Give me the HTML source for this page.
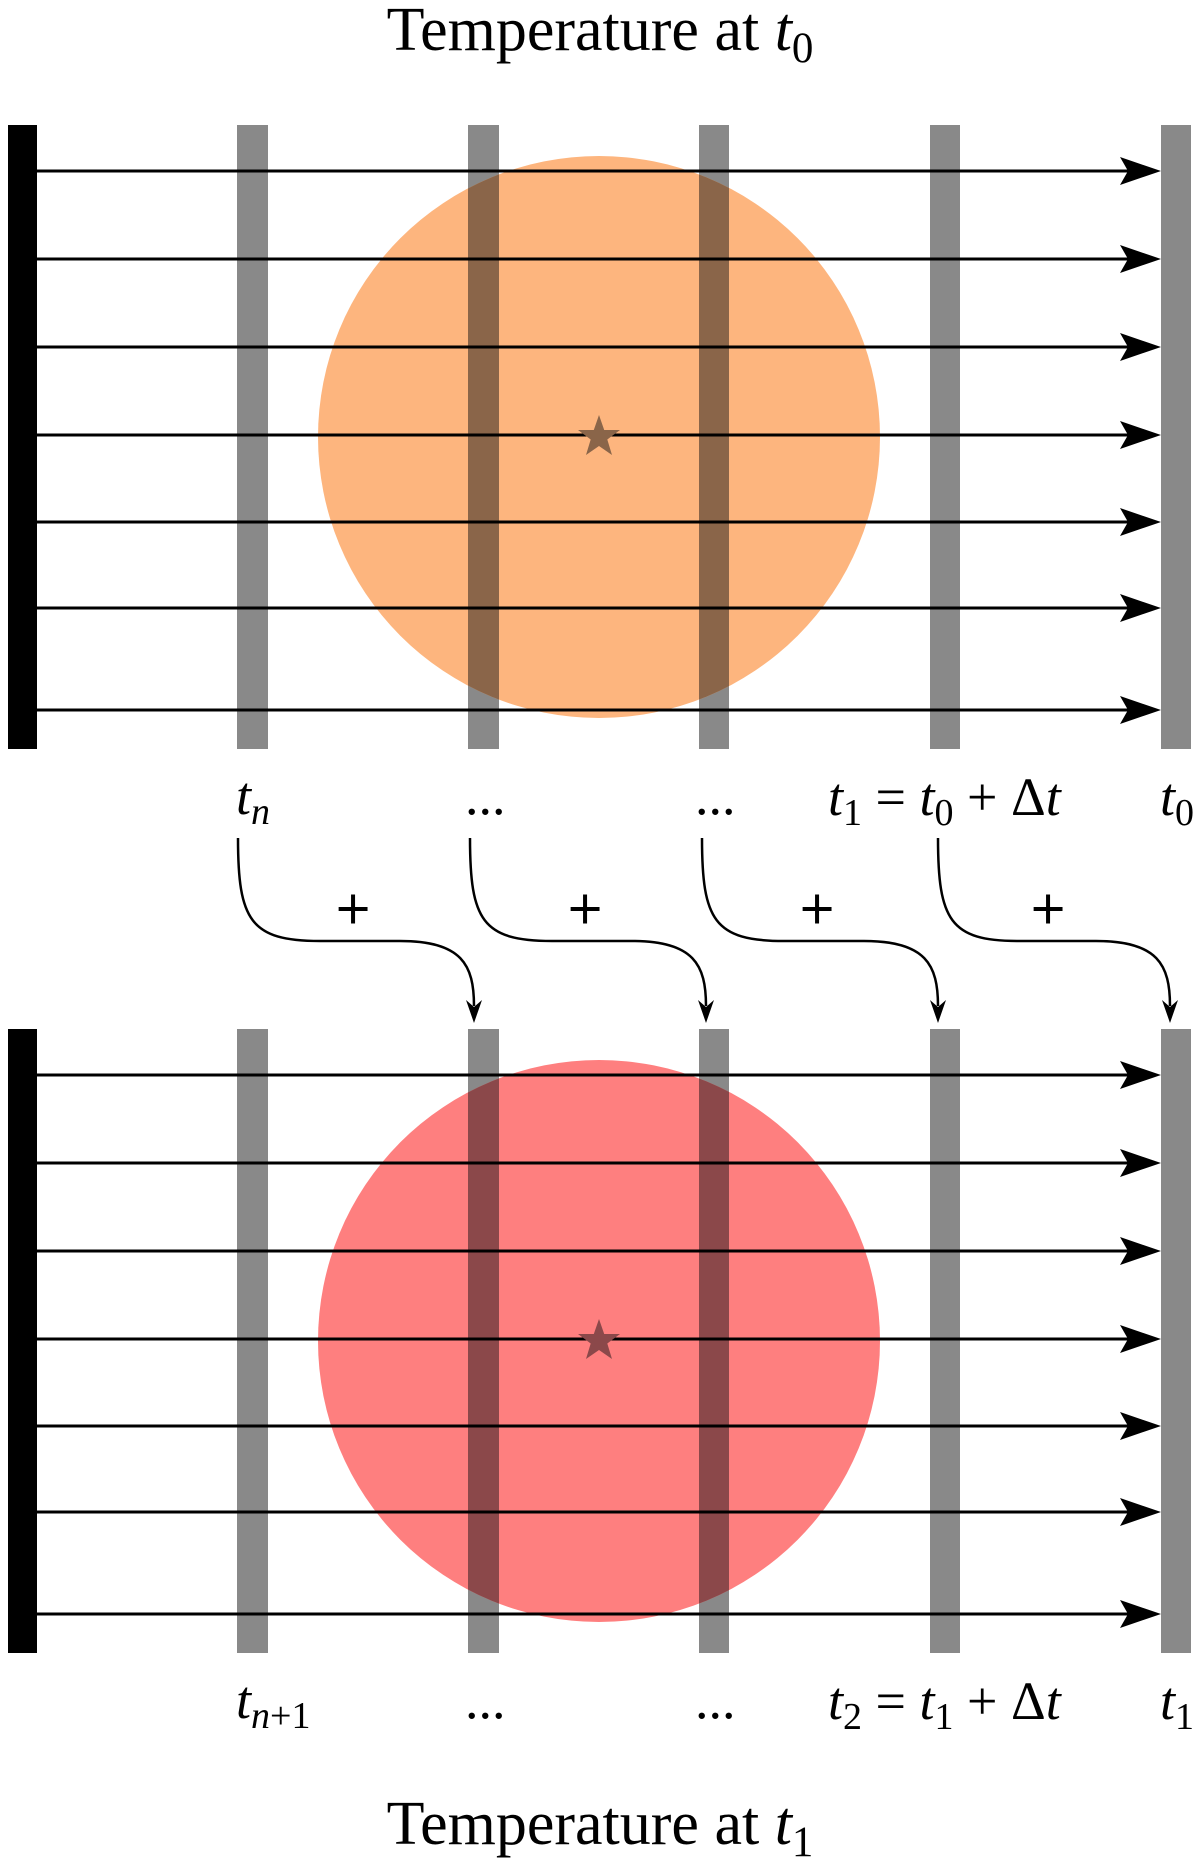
<!DOCTYPE html>
<html><head><meta charset="utf-8"><style>html,body{margin:0;padding:0;background:#fff}svg{display:block}</style></head>
<body>
<svg width="1200" height="1867" viewBox="0 0 1200 1867" xmlns="http://www.w3.org/2000/svg" font-family="Liberation Serif, serif">
<defs>
<g id="panel">
  <rect x="8" y="125" width="29" height="624" fill="#000"/>
  <rect x="237" y="125" width="31" height="624" fill="#898989"/>
  <rect x="468" y="125" width="31" height="624" fill="#898989"/>
  <rect x="699" y="125" width="30" height="624" fill="#898989"/>
  <rect x="930" y="125" width="30" height="624" fill="#898989"/>
  <rect x="1161" y="125" width="30" height="624" fill="#898989"/>
</g>
<g id="arrows" stroke="#000" stroke-width="3" fill="#000">
  <line x1="37" y1="171" x2="1130" y2="171"/><path d="M1161,171 L1120,157 L1128,171 L1120,185 Z" stroke="none"/>
  <line x1="37" y1="259" x2="1130" y2="259"/><path d="M1161,259 L1120,245 L1128,259 L1120,273 Z" stroke="none"/>
  <line x1="37" y1="347" x2="1130" y2="347"/><path d="M1161,347 L1120,333 L1128,347 L1120,361 Z" stroke="none"/>
  <line x1="37" y1="435" x2="1130" y2="435"/><path d="M1161,435 L1120,421 L1128,435 L1120,449 Z" stroke="none"/>
  <line x1="37" y1="522" x2="1130" y2="522"/><path d="M1161,522 L1120,508 L1128,522 L1120,536 Z" stroke="none"/>
  <line x1="37" y1="608" x2="1130" y2="608"/><path d="M1161,608 L1120,594 L1128,608 L1120,622 Z" stroke="none"/>
  <line x1="37" y1="710" x2="1130" y2="710"/><path d="M1161,710 L1120,696 L1128,710 L1120,724 Z" stroke="none"/>
</g>
<clipPath id="c1"><circle cx="599" cy="437" r="281"/></clipPath>
</defs>

<text x="600" y="50" font-size="62" text-anchor="middle">Temperature at <tspan font-style="italic">t</tspan><tspan font-size="43" dy="12">0</tspan></text>
<use href="#panel"/>
<circle cx="599" cy="437" r="281" fill="#fdb57e"/>
<g clip-path="url(#c1)">
  <rect x="468" y="125" width="31" height="624" fill="#8a6549"/>
  <rect x="699" y="125" width="30" height="624" fill="#8a6549"/>
</g>
<use href="#arrows"/>
<polygon points="599,415 604.2,430 620,430 607.3,439.5 612,455 599,446 586,455 590.7,439.5 578,430 593.8,430" fill="#8a6549"/>

<g font-size="54">
<text x="236" y="814" font-style="italic">t<tspan font-size="38" dy="10">n</tspan></text>
<text x="465" y="814">...</text>
<text x="695" y="814">...</text>
<text x="828" y="815"><tspan font-style="italic">t</tspan><tspan font-size="38" dy="10">1</tspan><tspan dy="-10"> = </tspan><tspan font-style="italic">t</tspan><tspan font-size="38" dy="10">0</tspan><tspan dy="-10"> + Δ</tspan><tspan font-style="italic">t</tspan></text>
<text x="1160" y="815" font-style="italic">t<tspan font-size="38" dy="10" font-style="normal">0</tspan></text>
</g>

<g fill="none" stroke="#000" stroke-width="2.5">
  <path d="M238,838 C238,920 250,941 320,941 L400,941 C462,941 474,965 474,1006"/>
  <path d="M470,838 C470,920 482,941 552,941 L632,941 C694,941 706,965 706,1006"/>
  <path d="M702,838 C702,920 714,941 784,941 L864,941 C926,941 938,965 938,1006"/>
  <path d="M938,838 C938,920 950,941 1018,941 L1096,941 C1158,941 1170,965 1170,1006"/>
</g>
<g fill="#000">
  <path d="M474,1023 L466,1000 L474,1007 L482,1000 Z"/>
  <path d="M706,1023 L698,1000 L706,1007 L714,1000 Z"/>
  <path d="M938,1023 L930,1000 L938,1007 L946,1000 Z"/>
  <path d="M1170,1023 L1162,1000 L1170,1007 L1178,1000 Z"/>
</g>
<g font-size="60" text-anchor="middle" stroke="#000" stroke-width="1">
  <text x="353" y="929">+</text>
  <text x="585" y="929">+</text>
  <text x="817" y="929">+</text>
  <text x="1048" y="929">+</text>
</g>

<g transform="translate(0,904)">
  <use href="#panel"/>
  <circle cx="599" cy="437" r="281" fill="#fe7f7f"/>
  <g clip-path="url(#c1)">
    <rect x="468" y="125" width="31" height="624" fill="#8b484a"/>
    <rect x="699" y="125" width="30" height="624" fill="#8b484a"/>
  </g>
  <use href="#arrows"/>
  <polygon points="599,415 604.2,430 620,430 607.3,439.5 612,455 599,446 586,455 590.7,439.5 578,430 593.8,430" fill="#8b484a"/>
</g>

<g font-size="54">
<text x="236" y="1718" font-style="italic">t<tspan font-size="38" dy="10" font-style="italic">n</tspan><tspan font-size="38" font-style="normal">+1</tspan></text>
<text x="465" y="1718">...</text>
<text x="695" y="1718">...</text>
<text x="828" y="1719"><tspan font-style="italic">t</tspan><tspan font-size="38" dy="10">2</tspan><tspan dy="-10"> = </tspan><tspan font-style="italic">t</tspan><tspan font-size="38" dy="10">1</tspan><tspan dy="-10"> + Δ</tspan><tspan font-style="italic">t</tspan></text>
<text x="1160" y="1719" font-style="italic">t<tspan font-size="38" dy="10" font-style="normal">1</tspan></text>
</g>
<text x="600" y="1844" font-size="62" text-anchor="middle">Temperature at <tspan font-style="italic">t</tspan><tspan font-size="43" dy="12">1</tspan></text>
</svg>
</body></html>
